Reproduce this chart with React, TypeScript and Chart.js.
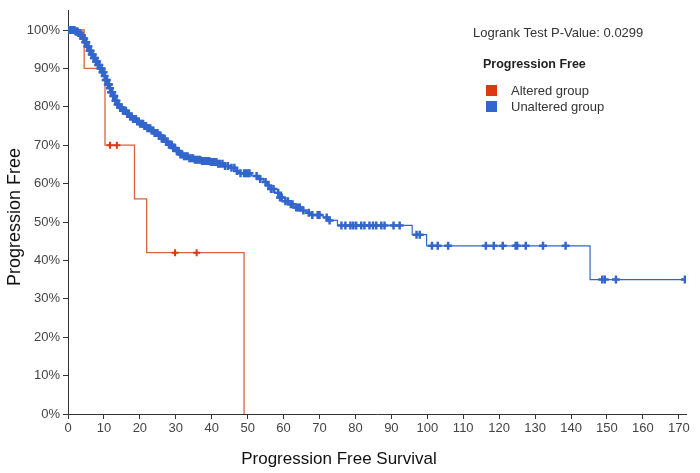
import React, { useEffect, useRef } from "react";
import { Chart, registerables } from "chart.js";

Chart.register(...registerables);

// Kaplan-Meier step points: [time, survival %]
const alteredSteps: [number, number][] = [
  [0, 100], [4.5, 90], [10.3, 70], [18.5, 56], [21.9, 42], [49.0, 0],
];
const alteredCensored: [number, number][] = [
  [11.7, 70], [13.6, 70], [29.8, 42], [35.8, 42],
];

const unalteredSteps: [number, number][] = [
  [0, 100], [2, 99.6], [3, 99.2], [3.6, 98.6], [4.2, 97.8], [4.8, 96.8], [5.4, 95.7],
  [6, 94.6], [6.6, 93.6], [7.2, 92.7], [7.8, 91.8], [8.4, 90.9], [9, 90], [9.5, 89],
  [10, 88], [10.5, 87], [11, 85.8], [11.5, 84.8], [12, 83.8], [12.6, 82.8], [13.2, 81.6],
  [13.8, 80.6], [14.5, 79.8], [15.3, 79], [16.2, 78.2], [17, 77.5], [18, 76.8], [19, 76.2],
  [20, 75.6], [21, 75], [22, 74.4], [23, 73.8], [24, 73.2], [25, 72.5], [26, 71.7],
  [27, 70.9], [28, 70.1], [29, 69.3], [30, 68.5], [31, 67.6], [32, 67.1], [33.5, 66.6],
  [35, 66.2], [37, 65.9], [39.5, 65.6], [41.5, 65.2], [43.5, 64.6], [45, 64.1], [46.5, 63.3],
  [48, 62.7], [51, 62], [53, 61.2], [54.5, 60.4], [55.5, 59.5], [56.5, 58.6], [57.5, 57.6],
  [59, 56.4], [60.5, 55.4], [62, 54.6], [63.5, 53.8], [65, 53], [66.5, 52.4], [68, 51.8],
  [71, 51.2], [72.5, 50.4], [75, 49.1], [95.8, 46.7], [99.8, 43.8], [145.3, 35], [171.7, 35],
];

const unalteredCensorTimes: number[] = [
  0.3, 0.6, 0.9, 1.2, 1.5, 1.8, 2.1, 2.4, 2.7, 3.0, 3.3, 3.6, 3.9, 4.2, 4.5, 4.8, 5.1, 5.4,
  5.7, 6.0, 6.3, 6.6, 6.9, 7.2, 7.5, 7.8, 8.1, 8.4, 8.7, 9.0, 9.3, 9.6, 9.9, 10.2, 10.5,
  10.8, 11.1, 11.4, 11.7, 12.0, 12.3, 12.6, 12.9, 13.2, 13.5, 13.8, 14.1, 14.5, 14.9, 15.3,
  15.7, 16.1, 16.5, 16.9, 17.3, 17.7, 18.1, 18.5, 18.9, 19.3, 19.7, 20.1, 20.5, 20.9, 21.3,
  21.7, 22.1, 22.5, 22.9, 23.3, 23.7, 24.1, 24.5, 24.9, 25.3, 25.7, 26.1, 26.5, 26.9, 27.3,
  27.7, 28.1, 28.5, 28.9, 29.3, 29.8, 30.3, 30.8, 31.3, 31.8, 32.3, 32.8, 33.3, 33.8, 34.3,
  34.8, 35.3, 35.8, 36.3, 36.8, 37.3, 37.8, 38.3, 38.8, 39.3, 39.8, 40.3, 40.8, 41.3, 41.8,
  42.3, 43.0, 43.7, 44.5, 45.5, 46.3, 47.0, 48.0, 49.0, 49.5, 50.0, 50.5, 52.5, 53.5, 55.0,
  55.8, 56.5, 57.2, 58.5, 59.0, 59.5, 60.5, 61.2, 62.0, 62.5, 63.5, 64.0, 64.5, 65.5, 67.0,
  68.0, 69.5, 70.0, 72.0, 72.8,
  76.1, 77.2, 78.6, 79.4, 80.2, 81.6, 82.5, 83.9, 84.9, 85.8, 87.2, 88.1, 90.6, 92.3,
  97.0, 97.9,
  101.3, 102.9, 105.8, 116.3, 118.5, 121.0, 124.6, 125.0, 127.4, 132.2, 138.5,
  148.7, 149.4, 152.5, 171.7,
];

const yTickValues: number[] = [0, 10, 20, 30, 40, 50, 60, 70, 80, 90, 100];
const xTickValues: number[] = [0, 10, 20, 30, 40, 50, 60, 70, 80, 90, 100, 110, 120, 130, 140, 150, 160, 170];

const RED = "#dc3912";
const BLUE = "#3366cc";
const FONT = "'Liberation Sans', Arial, sans-serif";

function levelAt(steps: [number, number][], t: number): number {
  let v = steps[0][1];
  for (const [x, y] of steps) {
    if (x <= t) v = y;
    else break;
  }
  return v;
}

const overlayPlugin = {
  id: "overlay",
  afterDraw(chart: any) {
    const ctx = chart.ctx as CanvasRenderingContext2D;
    ctx.save();
    ctx.textBaseline = "middle";
    ctx.font = `13px ${FONT}`;
    ctx.textAlign = "left";
    ctx.fillStyle = "#333";
    ctx.fillText("Logrank Test P-Value: 0.0299", 473, 33);
    ctx.font = `bold 12.5px ${FONT}`;
    ctx.fillStyle = "#222";
    ctx.fillText("Progression Free", 483, 65);
    ctx.font = `13px ${FONT}`;
    ctx.fillStyle = RED;
    ctx.fillRect(486, 85, 11, 11);
    ctx.fillStyle = BLUE;
    ctx.fillRect(486, 101, 11, 11);
    ctx.fillStyle = "#333";
    ctx.fillText("Altered group", 511, 91);
    ctx.fillText("Unaltered group", 511, 107);
    ctx.font = `17px ${FONT}`;
    ctx.fillStyle = "#111";
    ctx.textAlign = "center";
    ctx.fillText("Progression Free Survival", 339, 459);
    ctx.translate(15, 217);
    ctx.rotate(-Math.PI / 2);
    ctx.font = `18px ${FONT}`;
    ctx.fillText("Progression Free", 0, 0);
    ctx.restore();
  },
};

export default function App() {
  const ref = useRef<HTMLCanvasElement | null>(null);

  useEffect(() => {
    document.body.style.margin = "0";
    const canvas = ref.current;
    if (!canvas) return;

    const unalteredCensored = unalteredCensorTimes.map((t) => ({ x: t, y: levelAt(unalteredSteps, t) }));

    const chart = new Chart(canvas, {
      type: "line",
      data: {
        datasets: [
          {
            label: "Unaltered censored",
            data: unalteredCensored,
            showLine: false,
            pointStyle: "cross",
            pointRadius: 4,
            pointBorderWidth: 2.5,
            pointBorderColor: BLUE,
            pointBackgroundColor: BLUE,
            borderColor: BLUE,
          } as any,
          {
            label: "Unaltered group",
            data: unalteredSteps.map(([x, y]) => ({ x, y })),
            stepped: "before",
            borderColor: BLUE,
            borderWidth: 1.2,
            pointRadius: 0,
            fill: false,
          } as any,
          {
            label: "Altered censored",
            data: alteredCensored.map(([x, y]) => ({ x, y })),
            showLine: false,
            pointStyle: "cross",
            pointRadius: 3.5,
            pointBorderWidth: 2,
            pointBorderColor: RED,
            pointBackgroundColor: RED,
            borderColor: RED,
          } as any,
          {
            label: "Altered group",
            data: alteredSteps.map(([x, y]) => ({ x, y })),
            stepped: "before",
            borderColor: "#d9633f",
            borderWidth: 1.3,
            pointRadius: 0,
            fill: false,
          } as any,
        ],
      },
      options: {
        responsive: false,
        animation: false,
        layout: { padding: { top: 4, right: 14, left: 0, bottom: 0 } },
        plugins: {
          legend: { display: false },
          tooltip: { enabled: false },
        },
        scales: {
          x: {
            type: "linear",
            min: 0,
            max: 172,
            afterBuildTicks: (scale: any) => {
              scale.ticks = xTickValues.map((v) => ({ value: v }));
            },
            afterFit: (scale: any) => {
              scale.height = 59;
            },
            ticks: {
              color: "#444",
              font: { size: 13, family: FONT },
              padding: 2,
              maxRotation: 0,
              autoSkip: false,
            },
            grid: { drawOnChartArea: false, drawTicks: true, tickLength: 5, color: "#333" },
            border: { display: true, color: "#333", width: 1 },
          },
          y: {
            type: "linear",
            min: 0,
            max: 105,
            afterBuildTicks: (scale: any) => {
              scale.ticks = yTickValues.map((v) => ({ value: v }));
            },
            afterFit: (scale: any) => {
              scale.width = 68;
            },
            ticks: {
              color: "#444",
              font: { size: 13, family: FONT },
              padding: 3,
              callback: (v: any) => `${v}%`,
            },
            grid: { drawOnChartArea: false, drawTicks: true, tickLength: 5, color: "#333" },
            border: { display: true, color: "#333", width: 1 },
          },
        },
      },
      plugins: [overlayPlugin],
    });

    return () => chart.destroy();
  }, []);

  return (
    <div style={{ width: 700, height: 473, background: "#fff" }}>
      <canvas ref={ref} width={700} height={473} style={{ display: "block" }} />
    </div>
  );
}
